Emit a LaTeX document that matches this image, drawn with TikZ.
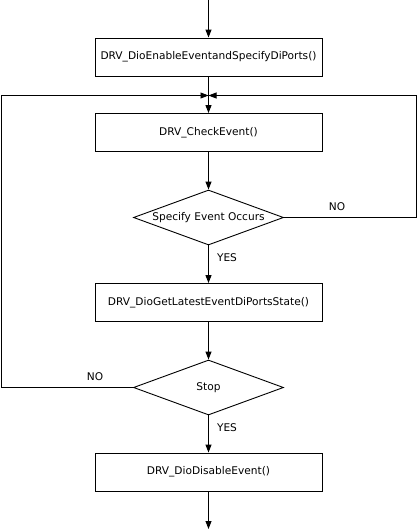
\documentclass[tikz,border=0pt]{standalone}
\usepackage{fontspec}
\setmainfont{DejaVu Sans}
\usetikzlibrary{arrows.meta,shapes.geometric}
\begin{document}
\begin{tikzpicture}[x=1pt,y=-1pt,
  line width=0.9pt,
  flow/.style={-{Triangle[length=8pt,width=6pt]}},
  txt/.style={font=\fontsize{10.6}{12}\selectfont},
  procbox/.style={draw,txt,minimum width=227pt,minimum height=38pt,inner sep=0pt},
  decision/.style={draw,txt,diamond,aspect=2.727,minimum width=150pt,minimum height=55pt,inner sep=0pt},
  lbl/.style={txt,inner sep=0pt}]
\useasboundingbox (0,0) rectangle (417,530);
% process steps
\node[procbox] (enable) at (208.5,57) {DRV\_DioEnableEventandSpecifyDiPorts()};
\node[procbox] (check)  at (208.5,132.5) {DRV\_CheckEvent()};
\node[decision] (occurs) at (208.5,217.5) {Specify Event Occurs};
\node[procbox] (state)  at (208.5,302.5) {DRV\_DioGetLatestEventDiPortsState()};
\node[decision] (stop)  at (208.5,387.5) {Stop};
\node[procbox] (disable) at (208.5,472) {DRV\_DioDisableEvent()};
% loop junction and free ends
\coordinate (join) at (208.5,95.5);
\coordinate (top) at (208.5,0);
\coordinate (bottom) at (208.5,529);
\coordinate (rightc) at (416,95.5);
\coordinate (leftc) at (1,95.5);
% connectors
\draw[flow] (top) -- (enable.north);
\draw (enable.south) -- (join);
\draw[flow] (join) -- (check.north);
\draw[flow] (check.south) -- (occurs.north);
\draw[flow] (occurs.south) -- (state.north);
\draw[flow] (state.south) -- (stop.north);
\draw[flow] (stop.south) -- (disable.north);
\draw[flow] (disable.south) -- (bottom);
\draw[flow] (occurs.east) -| (rightc) -- (join);
\draw[flow] (stop.west) -| (leftc) -- (join);
% branch labels
\node[lbl] (no1) at (337,207) {NO};
\node[lbl] (yes1) at (227,258) {YES};
\node[lbl] (no2) at (95,377) {NO};
\node[lbl] (yes2) at (227,428) {YES};
\end{tikzpicture}
\end{document}
